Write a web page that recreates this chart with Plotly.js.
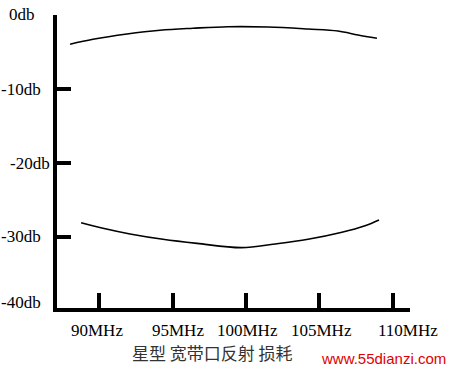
<!DOCTYPE html>
<html>
<head>
<meta charset="utf-8">
<script src="https://cdn.plot.ly/plotly-3.0.1.min.js"></script>
<style>html,body{margin:0;padding:0;background:#fff;}#chart{width:454px;height:371px;}</style>
</head>
<body>
<div id="chart"></div>
<script>
// Upper curve (MHz, dB)
var upperFreq = [88.03, 89.59, 91.90, 94.15, 96.39, 98.78, 101.50, 104.22, 106.26, 107.62, 108.91];
var upperDb   = [-3.89, -3.22, -2.50, -1.99, -1.72, -1.51, -1.55, -1.82, -2.09, -2.63, -3.08];
// Lower curve (MHz, dB)
var lowerFreq = [88.78, 90.27, 92.11, 94.35, 96.67, 99.70, 101.97, 104.22, 106.53, 108.10, 109.05];
var lowerDb   = [-28.10, -28.86, -29.63, -30.35, -30.90, -31.48, -30.98, -30.35, -29.40, -28.51, -27.73];
// Axis ticks and labels
var xTickVals = [90, 95, 100, 105, 110];
var xTickText = ['90MHz', '95MHz', '100MHz', '105MHz', '110MHz'];
var yTickVals = [0, -10, -20, -30];
var yLabelVals = [0, -10, -20, -30, -40];
var yLabelText = ['0db', '-10db', '-20db', '-30db', '-40db'];
var chartTitle = '星型 宽带口反射 损耗';
var watermark = 'www.55dianzi.com';

// label placement styling (pixel nudges, as in the original drawing)
var xLabelShift = [-2, 5, 1.5, 2.5, 15];
var yLabelXShift = [-20, -14, -5, -14, -14];
var yLabelYShift = [1.5, 0, 0, 0, 6];

var yRange = [-39.67, 0.08];
var serif = '"Liberation Serif", "DejaVu Serif", serif';
var lineStyle = {color: '#000', width: 1.6, shape: 'spline', smoothing: 1};
var traces = [
  {x: upperFreq, y: upperDb, mode: 'lines', line: lineStyle, hoverinfo: 'skip'},
  {x: lowerFreq, y: lowerDb, mode: 'lines', line: lineStyle, hoverinfo: 'skip'}
];

var annotations = [];
xTickVals.forEach(function (v, i) {
  annotations.push({xref: 'x', yref: 'paper', x: v, y: 0, yshift: -22, xshift: xLabelShift[i],
    text: xTickText[i], xanchor: 'center', yanchor: 'middle', showarrow: false,
    font: {family: serif, size: 17, color: '#000'}});
});
yLabelVals.forEach(function (v, i) {
  var inRange = v >= yRange[0];
  annotations.push({xref: 'paper', yref: inRange ? 'y' : 'paper', x: 0, y: inRange ? v : 0,
    xshift: yLabelXShift[i], yshift: yLabelYShift[i],
    text: yLabelText[i], xanchor: 'right', yanchor: 'middle', showarrow: false,
    font: {family: serif, size: 17, color: '#000'}});
});
annotations.push({xref: 'paper', yref: 'paper', x: 0.44, y: 0, yshift: -44, text: chartTitle,
  xanchor: 'center', yanchor: 'middle', showarrow: false,
  font: {family: '"Noto Sans CJK SC", sans-serif', size: 17, color: '#333'}});
annotations.push({xref: 'paper', yref: 'paper', x: 1, y: 0, xshift: 38, yshift: -50, text: watermark,
  xanchor: 'right', yanchor: 'middle', showarrow: false,
  font: {family: '"Liberation Sans", Arial, sans-serif', size: 15, color: '#e00000'}});

var layout = {
  width: 454, height: 371,
  margin: {l: 57, r: 44, t: 15, b: 63},
  paper_bgcolor: '#fff', plot_bgcolor: '#fff',
  showlegend: false,
  xaxis: {
    range: [87.14, 111.16],
    tickvals: xTickVals, showticklabels: false,
    ticks: 'inside', ticklen: 15, tickwidth: 4, tickcolor: '#000',
    showline: true, linewidth: 4, linecolor: '#000',
    showgrid: false, zeroline: false, fixedrange: true
  },
  yaxis: {
    range: yRange,
    tickvals: yTickVals, showticklabels: false,
    ticks: 'inside', ticklen: 14, tickwidth: 4, tickcolor: '#000',
    showline: true, linewidth: 4, linecolor: '#000',
    showgrid: false, zeroline: false, fixedrange: true
  },
  annotations: annotations
};

Plotly.newPlot('chart', traces, layout, {staticPlot: true, displayModeBar: false});
</script>
</body>
</html>
